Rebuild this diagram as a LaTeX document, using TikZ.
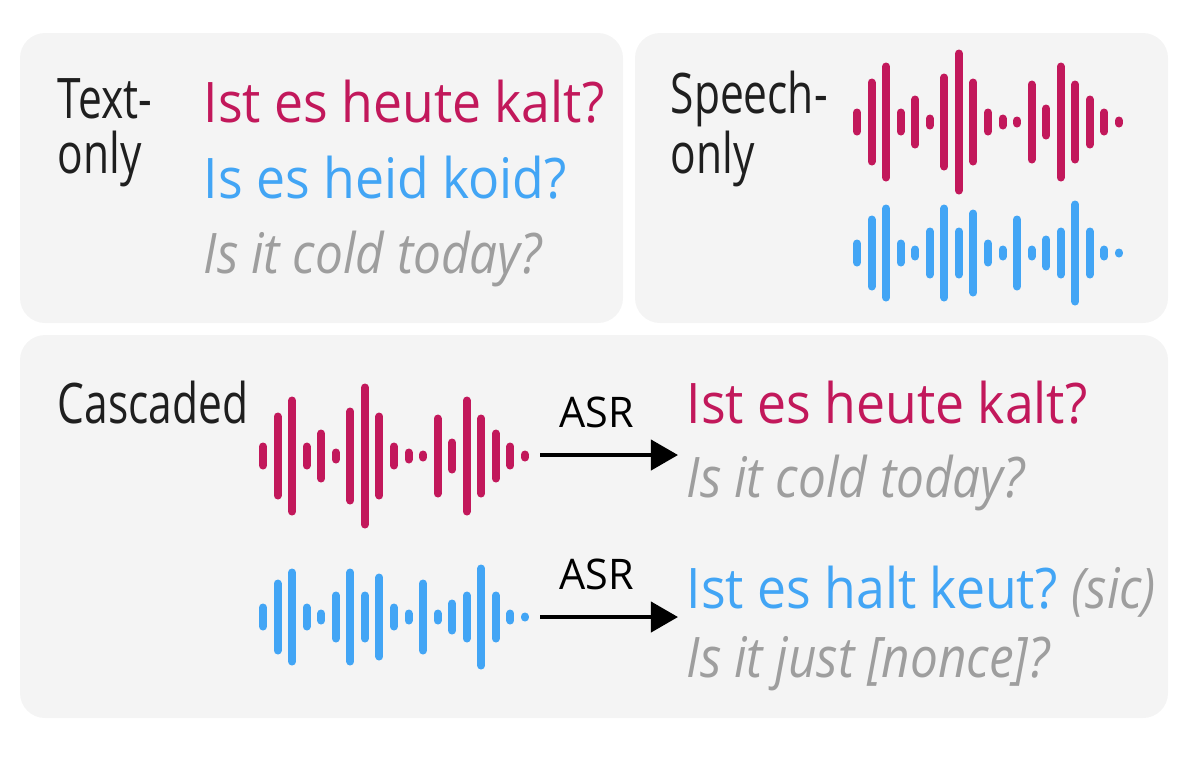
\documentclass[tikz,border=0pt]{standalone}
\usepackage{fontspec}
\setmainfont{Open Sans}[FakeStretch=0.925,ItalicFeatures={FakeStretch=0.885}]
\newfontfamily\labelfont{Open Sans}[FakeStretch=0.76]
\newfontfamily\asrfont{Open Sans}[FakeStretch=0.98]
\usetikzlibrary{arrows.meta,positioning}
\definecolor{wavered}{HTML}{C2185B}
\definecolor{waveblue}{HTML}{42A5F5}
\definecolor{glossgray}{HTML}{9E9E9E}
\definecolor{panelgray}{HTML}{F4F4F4}
\tikzset{
  panel/.style={fill=panelgray,rounded corners=0.25cm},
  lbl/.style={anchor=base west,inner sep=0,align=left,text=black!88,font=\labelfont\fontsize{15.9}{15.6}\selectfont},
  sent/.style={anchor=base west,inner sep=0,font=\fontsize{15.9}{19}\selectfont},
  gloss/.style={sent,text=glossgray,font=\fontsize{15.9}{19}\selectfont\itshape},
  bar/.style={line width=0.08cm,line cap=round},
  asr/.style={-{Triangle[length=0.27cm,width=0.3cm]},line width=0.04cm},
}
\newcommand{\redwave}{13,43,59,13,26,7,48,72,43,13,7,5,41,17,59,41,26,13,5}
\newcommand{\bluewave}{13,37,48,13,7,25,48,25,43,13,7,37,7,17,25,52,25,7,4}
\newcommand{\wave}[4]{\foreach \h [count=\i] in #1 {\draw[bar,#2] ({#3+14.55*(\i-1)},{#4-\h+3.5}) -- ++(0,{2*\h-7});}}
\begin{document}
\begin{tikzpicture}[x=0.01cm,y=-0.01cm]
\useasboundingbox (0,0) rectangle (1200,756);
\fill[panel] (20,33) rectangle (623,323);
\fill[panel] (635,33) rectangle (1168,323);
\fill[panel] (20,335) rectangle (1168,718);
\node[lbl] (textlbl) at (57,173) {Text-\\only};
\node[sent,wavered] (redtop) at (203,122) {Ist es heute kalt?};
\node[sent,waveblue] (bluetop) at (203,198) {Is es heid koid?};
\node[gloss] (glosstop) at (203,273) {Is it cold today?};
\node[lbl] (speechlbl) at (670,173) {Speech-\\only};
\wave{\redwave}{wavered}{857}{122}
\wave{\bluewave}{waveblue}{857}{253}
\node[lbl] (casclbl) at (57,423) {Cascaded};
\wave{\redwave}{wavered}{263}{456}
\wave{\bluewave}{waveblue}{263}{617}
\node[sent,wavered] (redout) at (686,423) {Ist es heute kalt?};
\node[gloss] (redgloss) at (686,497) {Is it cold today?};
\node[sent,waveblue] (blueout) at (686,608) {Ist es halt keut?};
\node[gloss,right=0.13cm of blueout.base east,anchor=base west] (sic) {(sic)};
\node[gloss] (bluegloss) at (686,677) {Is it just [nonce]?};
\coordinate (redend) at (540,455);
\coordinate (blueend) at (540,617);
\draw[asr,shorten >=0.08cm] (redend) -- (redend -| redout.west) node[pos=0.39,above=7pt,inner sep=0,font=\asrfont\fontsize{12}{14}\selectfont] (asrred) {ASR};
\draw[asr,shorten >=0.08cm] (blueend) -- (blueend -| blueout.west) node[pos=0.39,above=7pt,inner sep=0,font=\asrfont\fontsize{12}{14}\selectfont] (asrblue) {ASR};
\end{tikzpicture}
\end{document}
